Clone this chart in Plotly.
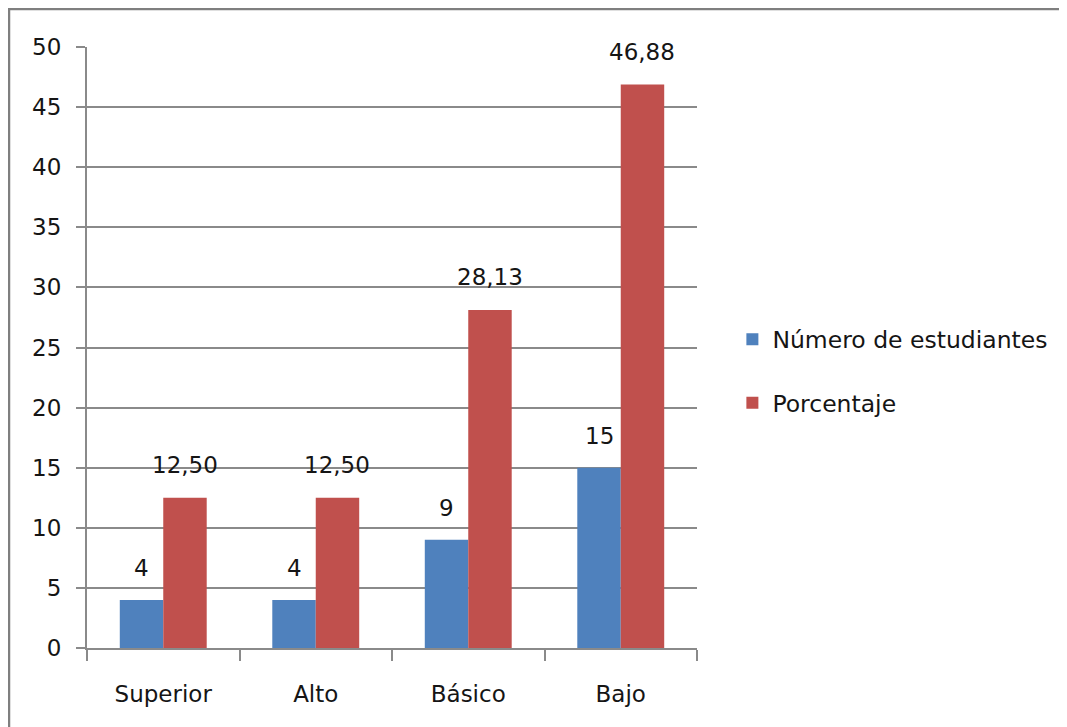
import plotly.graph_objects as go

categories = ["Superior", "Alto", "Básico", "Bajo"]
estudiantes = [4, 4, 9, 15]
porcentaje = [12.50, 12.50, 28.13, 46.88]
est_labels = ["4", "4", "9", "15"]
pct_labels = ["12,50", "12,50", "28,13", "46,88"]

BLUE = "#4F81BD"
RED = "#C0504D"
GRID = "#8a8a8a"
TXT = "#151515"
FONT = "DejaVu Sans"

fig = go.Figure()
fig.add_trace(go.Bar(x=categories, y=estudiantes, name="Número de estudiantes",
                     marker=dict(color=BLUE, line=dict(width=0)), legendgroup="a"))
fig.add_trace(go.Bar(x=categories, y=porcentaje, name="Porcentaje",
                     marker=dict(color=RED, line=dict(width=0)), legendgroup="b"))

annotations = []
for c, v, t in zip(categories, estudiantes, est_labels):
    annotations.append(dict(x=c, y=v, text=t, showarrow=False, xshift=-21.7, yshift=32,
                            yanchor="middle", font=dict(size=23, color=TXT, family=FONT)))
for c, v, t in zip(categories, porcentaje, pct_labels):
    annotations.append(dict(x=c, y=v, text=t, showarrow=False, xshift=21.7, yshift=33,
                            yanchor="middle", font=dict(size=23, color=TXT, family=FONT)))

# page body has an 8px margin, so the figure is drawn 8px smaller and offset
fig.update_layout(
    width=1059, height=719,
    margin=dict(l=79, r=370, t=39, b=79),
    paper_bgcolor="white", plot_bgcolor="white",
    barmode="group", bargap=0.43, bargroupgap=0,
    font=dict(family=FONT, size=23, color=TXT),
    showlegend=True,
    legend=dict(x=1.058, xanchor="left", y=0.46, yanchor="middle",
                tracegroupgap=30, font=dict(size=23.5, family=FONT, color=TXT),
                bgcolor="rgba(0,0,0,0)"),
    annotations=annotations,
    shapes=[dict(type="rect", xref="paper", yref="paper",
                 x0=(9 - 87) / 610, x1=(1090 - 87) / 610,
                 y0=(648 - 750) / 601, y1=(648 - 9) / 601,
                 line=dict(color="#7f7f7f", width=2.5), fillcolor="rgba(0,0,0,0)",
                 layer="below")],
)
fig.update_xaxes(showline=True, linecolor=GRID, linewidth=2, ticks="outside",
                 tickson="boundaries", ticklen=11, tickwidth=2, tickcolor=GRID,
                 showgrid=False, tickfont=dict(size=23), ticklabelstandoff=24)
fig.update_yaxes(range=[0, 50], dtick=5, showline=True, linecolor=GRID, linewidth=2,
                 ticks="outside", ticklen=9, tickwidth=2, tickcolor=GRID,
                 showgrid=True, gridcolor=GRID, gridwidth=2, zeroline=False,
                 tickfont=dict(size=23), ticklabelstandoff=10)

fig.write_html("out.html")
